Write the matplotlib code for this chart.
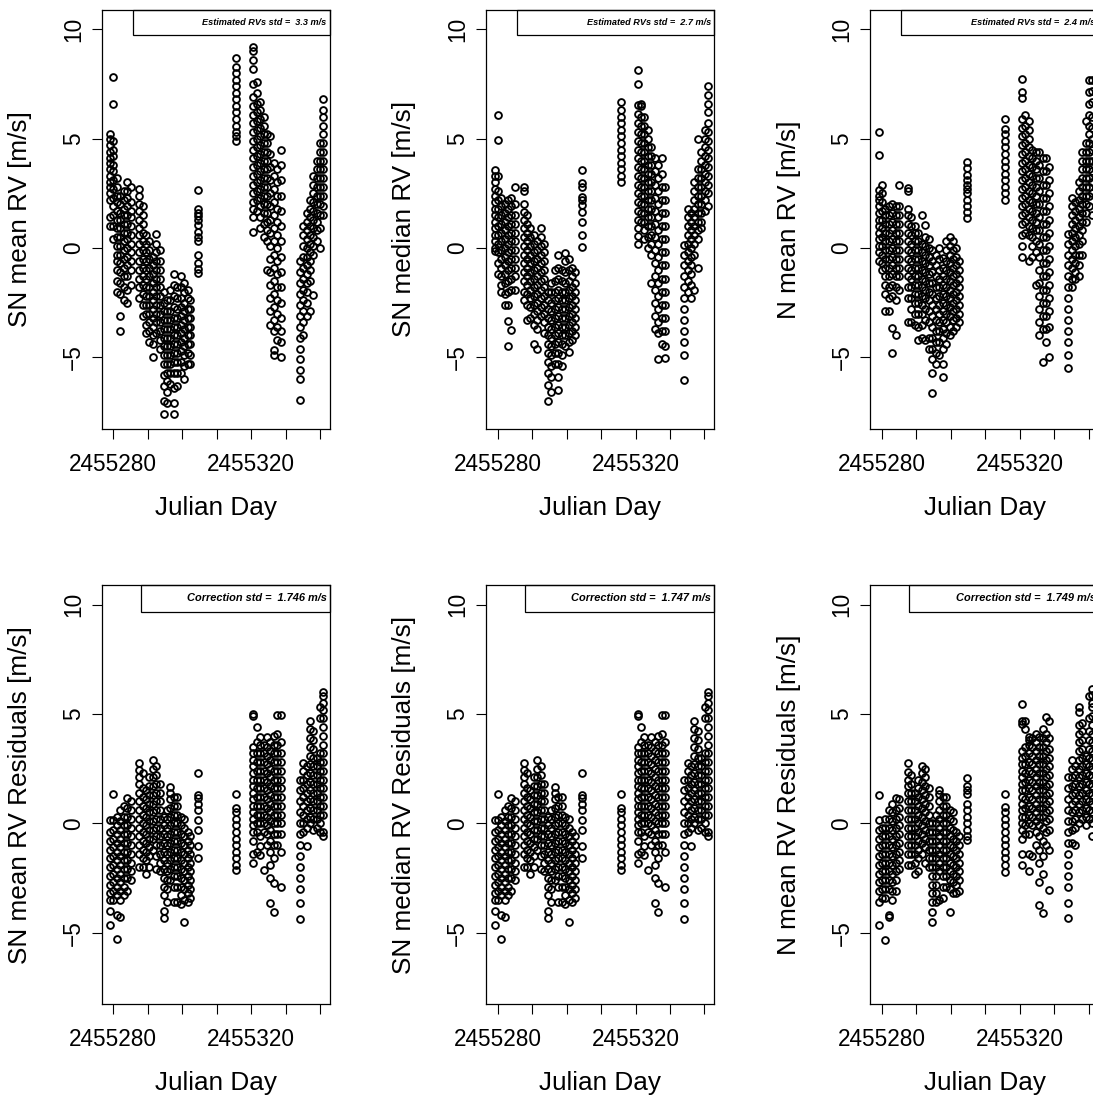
import numpy as np
import matplotlib.pyplot as plt
from matplotlib.patches import Rectangle

plt.rcParams['font.family'] = ['Liberation Sans', 'DejaVu Sans']

# observing nights (Julian Day)
nights = [2455279.1, 2455280.0, 2455281.0, 2455282.0, 2455283.0, 2455284.0, 2455285.0,
          2455287.5, 2455288.5, 2455289.5, 2455290.5, 2455291.5, 2455292.5, 2455293.5,
          2455294.6, 2455295.6, 2455296.6, 2455297.6, 2455298.6, 2455299.6, 2455300.6,
          2455301.6, 2455302.4, 2455304.6, 2455315.7,
          2455320.6, 2455321.6, 2455322.6, 2455323.6, 2455324.6, 2455325.6, 2455326.6,
          2455327.6, 2455328.6,
          2455334.1, 2455335.1, 2455336.1, 2455337.1, 2455338.1, 2455339.1, 2455340.1,
          2455340.9]

# RVs [m/s], one list per night
rv_sn_mean = [
    [5.2, 5.0, 4.7, 4.4, 4.1, 3.9, 3.6, 3.3, 3.0, 2.8, 2.5, 2.2, 1.4, 1.0],
    [7.8, 6.6, 4.9, 4.5, 4.2, 3.8, 3.5, 3.1, 2.7, 2.3, 1.9, 1.5, 1.0, 0.4],
    [3.2, 2.8, 2.4, 2.1, 1.7, 1.3, 0.9, 0.5, 0.1, -0.3, -0.6, -1.0, -1.5, -2.0],
    [2.4, 2.0, 1.6, 1.3, 0.9, 0.5, 0.1, -0.3, -0.7, -1.1, -1.6, -2.1, -3.1, -3.8],
    [2.6, 2.2, 1.8, 1.5, 1.1, 0.7, 0.3, -0.1, -0.5, -0.9, -1.3, -1.8, -2.4],
    [3.0, 2.6, 2.3, 1.9, 1.5, 1.1, 0.7, 0.4, 0.0, -0.4, -0.8, -1.3, -1.9, -2.5],
    [2.8, 2.1, 1.7, 1.4, 1.0, 0.6, 0.2, -0.2, -0.6, -1.0, -1.7],
    [2.7, 2.4, 2.0, 1.7, 1.3, 0.9, 0.6, 0.2, -0.2, -0.6, -1.0, -1.4, -1.8, -2.3],
    [1.9, 1.5, 1.1, 0.7, 0.3, -0.1, -0.5, -0.9, -1.3, -1.7, -2.1, -2.6, -3.1],
    [0.6, 0.2, -0.2, -0.6, -1.0, -1.4, -1.8, -2.2, -2.6, -3.0, -3.5, -3.9],
    [0.3, -0.1, -0.5, -0.9, -1.3, -1.8, -2.2, -2.6, -3.0, -3.4, -3.8, -4.3],
    [-0.4, -0.8, -1.2, -1.6, -2.0, -2.4, -2.8, -3.2, -3.6, -4.0, -4.4, -5.0],
    [0.65, 0.2, -0.2, -0.6, -1.0, -1.4, -1.8, -2.2, -2.6, -3.0, -3.4, -3.9],
    [-0.1, -0.6, -1.0, -1.4, -1.8, -2.2, -2.6, -3.0, -3.4, -3.8, -4.2, -4.6],
    [-2.0, -2.5, -2.9, -3.3, -3.7, -4.1, -4.5, -4.9, -5.3, -5.8, -6.3, -7.0, -7.6],
    [-2.4, -2.9, -3.3, -3.7, -4.1, -4.5, -4.9, -5.3, -5.7, -6.1, -6.6, -7.1],
    [-1.9, -2.4, -2.9, -3.3, -3.7, -4.1, -4.5, -4.9, -5.3, -5.7, -6.2],
    [-1.2, -1.7, -2.2, -2.7, -3.2, -3.6, -4.0, -4.4, -4.8, -5.2, -5.7, -6.4, -7.1, -7.6],
    [-1.8, -2.3, -2.8, -3.2, -3.6, -4.0, -4.4, -4.8, -5.2, -5.7, -6.3],
    [-1.3, -1.8, -2.3, -2.7, -3.1, -3.5, -3.9, -4.3, -4.7, -5.2, -5.7],
    [-1.6, -2.0, -2.5, -2.9, -3.3, -3.7, -4.1, -4.5, -4.9, -5.4, -6.0],
    [-1.9, -2.3, -2.8, -3.2, -3.6, -4.0, -4.4, -4.8, -5.3],
    [-2.4, -2.8, -3.2, -3.6, -4.0, -4.4, -4.9, -5.3],
    [2.65, 1.8, 1.6, 1.45, 1.3, 1.05, 0.75, 0.5, 0.3, -0.3, -0.7, -0.95, -1.15],
    [8.7, 8.3, 8.0, 7.7, 7.4, 7.1, 6.8, 6.5, 6.2, 5.9, 5.6, 5.3, 5.1, 4.9],
    [9.2, 9.0, 8.6, 8.2, 7.5, 6.9, 6.5, 6.1, 5.7, 5.3, 4.9, 4.5, 4.1, 3.7, 3.3, 2.9, 2.5, 2.1, 1.8, 1.4, 0.75],
    [7.6, 7.1, 6.6, 6.2, 5.8, 5.4, 5.0, 4.6, 4.2, 3.8, 3.4, 3.0, 2.6, 2.2, 1.7],
    [6.7, 6.3, 5.9, 5.5, 5.1, 4.7, 4.3, 3.9, 3.5, 3.1, 2.7, 2.3, 1.9, 1.4, 0.9],
    [6.0, 5.6, 5.2, 4.8, 4.4, 4.0, 3.6, 3.2, 2.8, 2.4, 2.0, 1.6, 1.1, 0.5],
    [5.2, 4.8, 4.4, 4.0, 3.6, 3.2, 2.8, 2.4, 2.0, 1.6, 1.2, 0.8, 0.3, -1.0],
    [5.1, 4.3, 3.7, 3.1, 2.5, 1.9, 1.3, 0.7, 0.1, -0.5, -1.1, -1.7, -2.3, -2.9, -3.5],
    [3.9, 3.3, 2.7, 2.1, 1.5, 0.9, 0.3, -0.3, -0.9, -1.5, -2.1, -2.7, -3.3, -3.8, -4.65, -4.9],
    [3.6, 3.0, 2.4, 1.8, 1.2, 0.6, 0.0, -0.6, -1.2, -1.8, -2.4, -3.0, -3.6, -4.2],
    [4.5, 3.8, 3.1, 2.4, 1.7, 1.0, 0.3, -0.4, -1.1, -1.8, -2.5, -3.2, -3.8, -4.3, -5.0],
    [-0.6, -1.1, -1.6, -2.1, -2.6, -3.1, -3.6, -4.1, -4.6, -5.1, -5.6, -6.0, -6.95],
    [1.0, 0.6, 0.1, -0.4, -0.9, -1.4, -1.9, -2.4, -2.9, -3.4, -4.0],
    [1.6, 1.2, 0.8, 0.4, 0.0, -0.4, -0.8, -1.2, -1.6, -2.0, -2.5, -3.1],
    [2.2, 1.8, 1.4, 1.0, 0.6, 0.2, -0.2, -0.6, -1.0, -1.5, -2.9],
    [3.3, 2.9, 2.5, 2.1, 1.7, 1.3, 0.9, 0.5, 0.1, -0.3, -2.15],
    [4.0, 3.6, 3.2, 2.8, 2.4, 2.0, 1.6, 1.2, 0.8, 0.3],
    [4.8, 4.4, 4.0, 3.6, 3.2, 2.8, 2.4, 2.0, 1.5, 0.9, 0.0],
    [6.8, 6.3, 6.0, 5.6, 5.2, 4.8, 4.4, 4.0, 3.6, 3.2, 2.8, 2.4, 1.9, 1.5],
]

rv_sn_median = [
    [3.55, 3.3, 3.0, 2.7, 2.4, 2.1, 1.8, 1.5, 1.2, 0.9, 0.6, 0.3, 0.0, -0.15],
    [6.1, 4.95, 3.3, 2.6, 2.2, 1.8, 1.4, 1.0, 0.6, 0.2, -0.2, -0.7, -1.2],
    [2.3, 1.9, 1.5, 1.1, 0.7, 0.3, -0.1, -0.5, -0.9, -1.3, -1.7, -2.0],
    [2.0, 1.6, 1.2, 0.8, 0.4, 0.0, -0.4, -0.8, -1.2, -1.6, -2.1, -2.6],
    [2.2, 1.8, 1.4, 1.0, 0.6, 0.2, -0.2, -0.6, -1.0, -1.5, -2.0, -2.6, -3.35, -4.5],
    [2.3, 1.9, 1.5, 1.1, 0.7, 0.3, -0.1, -0.5, -0.9, -1.4, -1.9, -3.75],
    [2.8, 2.0, 1.5, 1.1, 0.7, 0.3, -0.1, -0.5, -0.9, -1.3, -1.9],
    [2.8, 2.6, 2.0, 1.65, 1.3, 0.9, 0.5, 0.1, -0.3, -0.7, -1.1, -1.5, -2.0, -2.4],
    [1.5, 1.1, 0.7, 0.3, -0.1, -0.5, -0.9, -1.3, -1.7, -2.1, -2.6, -3.3],
    [0.9, 0.5, 0.1, -0.3, -0.7, -1.1, -1.5, -1.9, -2.3, -2.7, -3.2],
    [0.6, 0.2, -0.2, -0.6, -1.0, -1.4, -1.8, -2.2, -2.6, -3.0, -3.5, -4.4],
    [0.3, -0.1, -0.5, -0.9, -1.3, -1.7, -2.1, -2.5, -2.9, -3.3, -3.7, -4.6],
    [0.9, 0.5, 0.1, -0.3, -0.7, -1.1, -1.5, -1.9, -2.3, -2.7, -3.1],
    [0.2, -0.2, -0.6, -1.0, -1.4, -1.8, -2.2, -2.6, -3.0, -3.4, -3.9],
    [-2.0, -2.4, -2.8, -3.2, -3.6, -4.0, -4.4, -4.8, -5.2, -5.7, -6.25, -7.0],
    [-1.6, -2.0, -2.5, -2.9, -3.3, -3.7, -4.1, -4.5, -4.9, -5.4, -5.9, -6.6],
    [-1.0, -1.5, -2.0, -2.4, -2.8, -3.2, -3.6, -4.0, -4.4, -4.8, -5.3],
    [-0.3, -0.9, -1.4, -1.9, -2.3, -2.7, -3.1, -3.5, -3.9, -4.3, -4.8, -5.3, -5.9, -6.5],
    [-1.0, -1.5, -2.0, -2.4, -2.8, -3.2, -3.6, -4.0, -4.4, -4.9, -5.4],
    [-0.25, -0.6, -1.1, -1.6, -2.0, -2.4, -2.8, -3.2, -3.6, -4.0, -4.5],
    [-0.5, -1.0, -1.5, -1.9, -2.3, -2.7, -3.1, -3.5, -3.9, -4.3, -4.75],
    [-0.9, -1.3, -1.8, -2.2, -2.6, -3.0, -3.4, -3.8, -4.2],
    [-1.1, -1.6, -2.0, -2.4, -2.8, -3.2, -3.6, -4.0],
    [3.55, 2.95, 2.8, 2.35, 2.2, 1.95, 1.65, 1.2, 0.6, 0.05],
    [6.7, 6.3, 6.0, 5.7, 5.4, 5.1, 4.8, 4.5, 4.2, 3.9, 3.6, 3.3, 3.0],
    [8.15, 7.5, 6.55, 6.15, 5.7, 5.3, 4.9, 4.5, 4.1, 3.7, 3.3, 2.9, 2.5, 2.1, 1.7, 1.3, 0.9, 0.55, 0.2],
    [6.6, 6.5, 6.0, 5.6, 5.2, 4.8, 4.4, 4.0, 3.6, 3.2, 2.8, 2.4, 2.0, 1.6, 1.2],
    [6.0, 5.6, 5.2, 4.8, 4.4, 4.0, 3.6, 3.2, 2.8, 2.4, 2.0, 1.6, 1.2, 0.8, 0.4],
    [5.4, 5.0, 4.6, 4.2, 3.8, 3.4, 3.0, 2.6, 2.2, 1.8, 1.4, 1.0, 0.5, 0.0],
    [4.6, 4.2, 3.8, 3.4, 3.0, 2.6, 2.2, 1.8, 1.4, 1.0, 0.6, 0.2, -0.3, -1.6],
    [4.1, 3.5, 2.9, 2.3, 1.7, 1.1, 0.5, -0.1, -0.7, -1.3, -1.9, -2.5, -3.1, -3.7],
    [3.8, 3.2, 2.6, 2.0, 1.4, 0.8, 0.2, -0.4, -1.0, -1.6, -2.2, -2.8, -3.4, -3.9, -5.1],
    [4.1, 3.4, 2.8, 2.2, 1.6, 1.0, 0.4, -0.2, -0.8, -1.4, -2.0, -2.6, -3.2, -3.8, -4.4],
    [2.8, 2.2, 1.6, 1.0, 0.4, -0.2, -0.8, -1.4, -2.0, -2.6, -3.2, -3.8, -4.5, -5.05],
    [0.15, -0.3, -0.8, -1.3, -1.8, -2.3, -2.8, -3.3, -3.8, -4.3, -4.9, -6.05],
    [1.8, 1.4, 1.0, 0.6, 0.2, -0.2, -0.6, -1.0, -1.5, -2.0],
    [1.6, 1.2, 0.8, 0.4, 0.0, -0.4, -0.8, -1.2, -1.7, -2.3],
    [3.0, 2.6, 2.2, 1.8, 1.4, 1.0, 0.6, 0.2, -0.3, -1.9],
    [5.0, 3.6, 3.2, 2.8, 2.4, 2.0, 1.6, 1.2, 0.8, 0.4, -0.9],
    [4.4, 4.0, 3.6, 3.2, 2.8, 2.4, 2.0, 1.6, 1.2, 0.9],
    [5.4, 5.0, 4.6, 4.2, 3.8, 3.4, 3.0, 2.6, 2.2, 1.7],
    [7.4, 7.0, 6.6, 6.2, 5.7, 5.3, 4.9, 4.5, 4.1, 3.7, 3.3, 2.9, 2.5, 1.9],
]

rv_n_mean = [
    [5.3, 4.25, 2.65, 2.4, 2.2, 1.9, 1.6, 1.3, 1.0, 0.7, 0.4, 0.1, -0.2, -0.6],
    [2.9, 2.5, 2.1, 1.7, 1.3, 0.9, 0.5, 0.1, -0.3, -0.7, -1.0],
    [1.8, 1.5, 1.1, 0.7, 0.3, -0.1, -0.5, -0.9, -1.3, -1.7, -2.1, -2.9],
    [1.9, 1.5, 1.1, 0.7, 0.3, -0.1, -0.5, -0.9, -1.3, -1.8, -2.3, -2.9],
    [2.0, 1.6, 1.2, 0.8, 0.4, 0.0, -0.4, -0.8, -1.2, -1.7, -2.2, -3.65, -4.8],
    [1.9, 1.5, 1.1, 0.7, 0.3, -0.1, -0.5, -0.9, -1.3, -1.8, -2.4, -4.0],
    [2.9, 1.9, 1.5, 1.1, 0.7, 0.3, -0.1, -0.5, -0.9, -1.3, -1.9],
    [2.75, 2.6, 1.8, 1.5, 1.1, 0.7, 0.3, -0.1, -0.5, -0.9, -1.3, -1.8, -2.3, -3.4],
    [1.4, 1.0, 0.6, 0.2, -0.2, -0.6, -1.0, -1.4, -1.8, -2.3, -2.8, -3.4],
    [1.0, 0.7, 0.3, -0.1, -0.5, -0.9, -1.3, -1.7, -2.1, -2.5, -3.0, -3.5],
    [0.7, 0.3, -0.1, -0.5, -0.9, -1.3, -1.7, -2.1, -2.5, -3.0, -3.6, -4.2],
    [1.5, 0.2, -0.2, -0.6, -1.0, -1.4, -1.8, -2.2, -2.6, -3.0, -3.5, -4.1],
    [1.05, 0.5, 0.1, -0.3, -0.7, -1.1, -1.5, -1.9, -2.3, -2.8, -3.3, -4.2],
    [0.4, 0.0, -0.4, -0.8, -1.2, -1.6, -2.0, -2.4, -2.9, -3.4, -4.1, -4.6],
    [-0.1, -0.6, -1.1, -1.6, -2.1, -2.6, -3.1, -3.6, -4.1, -4.6, -5.1, -5.7, -6.65],
    [-0.3, -0.8, -1.3, -1.8, -2.3, -2.8, -3.3, -3.8, -4.3, -4.8, -5.3],
    [0.0, -0.5, -1.0, -1.4, -1.8, -2.2, -2.6, -3.0, -3.4, -3.8, -4.3, -4.9],
    [-0.45, -0.9, -1.3, -1.7, -2.1, -2.5, -2.9, -3.3, -3.7, -4.1, -4.6, -5.3, -5.9],
    [0.3, -0.1, -0.6, -1.0, -1.4, -1.8, -2.2, -2.6, -3.0, -3.4, -3.9, -4.4],
    [0.5, 0.1, -0.3, -0.7, -1.1, -1.5, -1.9, -2.3, -2.7, -3.1, -3.6, -4.0],
    [0.3, -0.1, -0.5, -0.9, -1.3, -1.7, -2.1, -2.5, -2.9, -3.3, -3.8],
    [0.0, -0.4, -0.8, -1.2, -1.6, -2.0, -2.4, -2.8, -3.2, -3.6],
    [-0.6, -1.0, -1.4, -1.8, -2.2, -2.6, -3.0, -3.4],
    [3.95, 3.65, 3.35, 3.1, 2.9, 2.7, 2.5, 2.2, 1.9, 1.65, 1.35],
    [5.9, 5.45, 5.2, 4.9, 4.6, 4.3, 4.0, 3.7, 3.4, 3.1, 2.8, 2.5, 2.2],
    [7.75, 7.15, 6.85, 5.9, 5.5, 5.1, 4.7, 4.3, 3.9, 3.5, 3.1, 2.7, 2.3, 1.9, 1.5, 1.1, 0.6, 0.1, -0.4],
    [6.1, 5.6, 5.2, 4.8, 4.4, 4.0, 3.6, 3.2, 2.8, 2.4, 2.0, 1.6, 1.2, 0.7],
    [5.8, 5.4, 5.0, 4.6, 4.2, 3.8, 3.4, 3.0, 2.6, 2.2, 1.8, 1.4, 1.0, 0.6, -0.6],
    [4.5, 4.1, 3.7, 3.3, 2.9, 2.5, 2.1, 1.7, 1.3, 0.9, 0.5, 0.1, -0.4],
    [4.4, 4.0, 3.6, 3.2, 2.8, 2.4, 2.0, 1.6, 1.2, 0.8, 0.3, -0.2, -1.7],
    [4.4, 3.8, 3.2, 2.6, 2.0, 1.4, 0.8, 0.2, -0.4, -1.0, -1.6, -2.2, -2.8, -3.4, -4.0],
    [4.1, 3.5, 2.9, 2.3, 1.7, 1.1, 0.5, -0.1, -0.7, -1.3, -1.9, -2.5, -3.1, -3.7, -5.2],
    [4.1, 3.5, 2.9, 2.3, 1.7, 1.1, 0.5, -0.1, -0.7, -1.3, -1.9, -2.5, -3.1, -3.7, -4.3],
    [3.7, 3.1, 2.5, 1.9, 1.3, 0.7, 0.1, -0.5, -1.1, -1.7, -2.3, -2.9, -3.6, -5.0],
    [0.65, 0.2, -0.3, -0.8, -1.3, -1.8, -2.3, -2.8, -3.3, -3.8, -4.3, -4.9, -5.5],
    [2.3, 1.9, 1.5, 1.1, 0.7, 0.3, -0.1, -0.5, -0.9, -1.4, -1.8],
    [2.1, 1.7, 1.3, 0.9, 0.5, 0.1, -0.3, -0.7, -1.1, -1.4],
    [3.0, 2.6, 2.2, 1.8, 1.4, 1.0, 0.6, 0.2, -0.3, -0.8, -1.3],
    [4.4, 4.0, 3.6, 3.2, 2.8, 2.4, 2.0, 1.6, 1.2, 0.8, 0.3, -0.3],
    [5.8, 4.8, 4.4, 4.0, 3.6, 3.2, 2.8, 2.4, 2.0, 1.6, 1.2],
    [7.7, 7.15, 6.6, 6.1, 5.6, 5.2, 4.8, 4.4, 4.0, 3.6, 3.2, 2.8, 2.4, 1.9],
    [7.7, 7.2, 6.7, 6.0, 5.5, 5.0, 4.5, 4.0, 3.5, 3.0, 2.5, 1.5],
]

# residuals after correction [m/s]
res_sn_mean = [
    [0.15, -0.4, -0.8, -1.2, -1.6, -2.0, -2.4, -2.8, -3.2, -3.5, -4.0, -4.65],
    [1.35, 0.15, -0.3, -0.7, -1.1, -1.5, -1.9, -2.3, -2.7, -3.1, -3.5],
    [0.3, -0.1, -0.5, -0.9, -1.3, -1.7, -2.1, -2.5, -2.9, -3.3, -4.2, -5.3],
    [0.6, 0.1, -0.3, -0.7, -1.1, -1.5, -1.9, -2.3, -2.7, -3.1, -3.5, -4.3],
    [0.8, 0.3, -0.1, -0.5, -0.9, -1.3, -1.7, -2.1, -2.5, -2.9, -3.3],
    [1.15, 0.7, 0.3, -0.1, -0.5, -0.9, -1.3, -1.7, -2.1, -2.5, -3.1],
    [1.0, 0.6, 0.2, -0.2, -0.6, -1.0, -1.4, -1.8, -2.2, -2.6],
    [2.75, 2.45, 2.1, 1.8, 1.4, 1.0, 0.6, 0.2, -0.2, -0.6, -1.0, -1.4, -2.0],
    [2.3, 1.6, 1.2, 0.8, 0.4, 0.0, -0.4, -0.8, -1.2, -1.6, -2.0],
    [1.5, 1.1, 0.7, 0.3, -0.1, -0.5, -0.9, -1.3, -1.7, -2.3],
    [2.1, 1.7, 1.3, 0.9, 0.5, 0.1, -0.3, -0.7, -1.1, -1.5, -2.0],
    [2.9, 2.5, 2.1, 1.7, 1.3, 0.9, 0.5, 0.1, -0.3, -0.7, -1.2],
    [2.6, 2.2, 1.8, 1.4, 1.0, 0.6, 0.2, -0.2, -0.6, -1.0, -1.5, -2.1],
    [1.8, 1.4, 1.0, 0.6, 0.2, -0.2, -0.6, -1.0, -1.4, -1.8, -2.2],
    [0.3, -0.1, -0.5, -0.9, -1.3, -1.7, -2.1, -2.5, -2.9, -3.3, -4.0, -4.35],
    [0.6, 0.2, -0.2, -0.6, -1.0, -1.4, -1.8, -2.2, -2.6, -3.0, -3.6],
    [1.65, 1.4, 1.1, 0.7, 0.3, -0.1, -0.5, -0.9, -1.3, -1.7, -2.1, -2.6],
    [1.2, 0.8, 0.4, 0.0, -0.4, -0.8, -1.2, -1.6, -2.0, -2.4, -2.9, -3.6],
    [1.2, 0.8, 0.4, 0.0, -0.4, -0.8, -1.2, -1.6, -2.0, -2.4, -2.9, -3.6],
    [0.3, -0.1, -0.5, -0.9, -1.3, -1.7, -2.1, -2.5, -2.9, -3.3, -3.7],
    [0.2, -0.2, -0.6, -1.0, -1.4, -1.8, -2.2, -2.6, -3.0, -3.5, -4.5],
    [-0.4, -0.8, -1.2, -1.6, -2.0, -2.4, -2.8, -3.2, -3.6],
    [-0.6, -1.0, -1.4, -1.8, -2.2, -2.6, -3.0, -3.4],
    [2.3, 1.3, 1.15, 0.9, 0.6, 0.15, -0.3, -1.05, -1.6],
    [1.35, 0.7, 0.5, 0.2, -0.1, -0.4, -0.7, -1.0, -1.3, -1.6, -1.9, -2.15],
    [5.0, 4.9, 3.5, 3.2, 2.9, 2.6, 2.3, 2.0, 1.7, 1.4, 1.1, 0.8, 0.5, 0.2, -0.1, -0.4, -0.8, -1.4, -1.8],
    [4.4, 3.7, 3.2, 2.8, 2.4, 2.0, 1.6, 1.2, 0.8, 0.4, 0.0, -0.4, -1.3],
    [3.95, 3.6, 3.2, 2.8, 2.4, 2.0, 1.6, 1.2, 0.8, 0.4, 0.0, -0.6, -1.05, -1.45],
    [3.6, 3.2, 2.8, 2.4, 2.0, 1.6, 1.2, 0.8, 0.4, 0.0, -0.4, -2.15],
    [3.95, 3.5, 3.1, 2.7, 2.3, 1.9, 1.5, 1.1, 0.7, 0.3, -0.1, -0.5, -1.0],
    [3.7, 3.3, 2.9, 2.5, 2.1, 1.7, 1.3, 0.9, 0.5, 0.1, -0.3, -0.8, -1.3, -1.9, -2.5, -3.65],
    [4.0, 3.6, 3.2, 2.8, 2.4, 2.0, 1.6, 1.2, 0.8, 0.4, 0.0, -0.5, -1.0, -1.6, -2.75, -4.05],
    [4.95, 4.1, 3.6, 3.2, 2.8, 2.4, 2.0, 1.6, 1.2, 0.8, 0.4, 0.0, -0.5, -1.0],
    [4.95, 3.7, 3.2, 2.8, 2.4, 2.0, 1.6, 1.2, 0.8, 0.4, 0.0, -0.5, -1.3, -2.9],
    [2.0, 1.5, 1.0, 0.5, 0.0, -0.5, -1.0, -1.5, -2.0, -2.5, -3.0, -3.65, -4.4],
    [2.75, 2.4, 2.0, 1.6, 1.2, 0.8, 0.4, 0.0, -0.4],
    [2.6, 2.2, 1.8, 1.4, 1.0, 0.6, 0.2, -0.2, -1.05],
    [4.7, 4.3, 3.9, 3.5, 3.1, 2.7, 2.3, 1.9, 1.5, 1.1, 0.7, 0.3, 0.0],
    [4.2, 3.8, 3.4, 3.0, 2.6, 2.2, 1.8, 1.4, 1.0, 0.6, 0.2, -0.3],
    [3.0, 2.6, 2.2, 1.8, 1.4, 1.0, 0.6, 0.2, -0.2],
    [5.3, 4.8, 3.2, 2.8, 2.4, 2.0, 1.6, 1.2, 0.8, 0.4, 0.0, -0.4],
    [6.0, 5.8, 5.5, 5.2, 4.8, 4.4, 4.0, 3.6, 3.2, 2.8, 2.4, 2.0, 1.6, 1.2, 0.8, 0.4, -0.4, -0.6],
]

# median-based residuals are indistinguishable from the mean-based ones at this scale
res_sn_median = res_sn_mean

res_n_mean = [
    [1.3, 0.15, -0.3, -0.7, -1.1, -1.5, -1.9, -2.3, -2.7, -3.1, -3.6, -4.65],
    [-0.2, -0.6, -1.0, -1.4, -1.8, -2.2, -2.6, -3.0, -3.4],
    [0.2, -0.2, -0.6, -1.0, -1.4, -1.8, -2.2, -2.6, -3.0, -3.4, -5.35],
    [0.6, 0.2, -0.2, -0.6, -1.0, -1.4, -1.8, -2.2, -2.6, -3.0, -4.2, -4.3],
    [0.9, 0.5, 0.1, -0.3, -0.7, -1.1, -1.5, -1.9, -2.3, -2.7, -3.1, -3.5],
    [1.15, 0.6, 0.2, -0.2, -0.6, -1.0, -1.4, -1.8, -2.2, -2.6, -3.1],
    [1.1, 0.7, 0.3, -0.1, -0.5, -0.9, -1.3, -1.7, -2.1],
    [2.75, 2.35, 2.0, 1.7, 1.4, 1.0, 0.6, 0.2, -0.2, -0.6, -1.0, -1.4, -1.9],
    [2.2, 1.8, 1.4, 1.0, 0.6, 0.2, -0.2, -0.6, -1.0, -1.4, -1.9],
    [1.4, 1.0, 0.6, 0.2, -0.2, -0.6, -1.0, -1.4, -1.8, -2.3],
    [2.0, 1.6, 1.2, 0.8, 0.4, 0.0, -0.4, -0.8, -1.2, -1.6, -2.2],
    [2.6, 2.3, 1.9, 1.5, 1.1, 0.7, 0.3, -0.1, -0.5, -0.9, -1.4],
    [2.5, 2.1, 1.7, 1.3, 0.9, 0.5, 0.1, -0.3, -0.7, -1.1, -1.8],
    [1.6, 1.2, 0.8, 0.4, 0.0, -0.4, -0.8, -1.2, -1.6, -2.0],
    [0.0, -0.4, -0.8, -1.2, -1.6, -2.0, -2.4, -2.8, -3.2, -3.6, -4.05, -4.5],
    [0.4, 0.0, -0.4, -0.8, -1.2, -1.6, -2.0, -2.4, -2.8, -3.2, -3.6],
    [1.5, 1.35, 1.0, 0.6, 0.2, -0.2, -0.6, -1.0, -1.4, -1.8, -2.2, -3.5],
    [1.2, 0.8, 0.4, 0.0, -0.4, -0.8, -1.2, -1.6, -2.0, -2.4, -2.9, -3.4],
    [1.2, 0.8, 0.4, 0.0, -0.4, -0.8, -1.2, -1.6, -2.0, -2.4, -2.9],
    [0.6, 0.2, -0.2, -0.6, -1.0, -1.4, -1.8, -2.2, -2.6, -3.0, -4.05],
    [0.5, 0.1, -0.3, -0.7, -1.1, -1.5, -1.9, -2.3, -2.7, -3.2],
    [-0.4, -0.8, -1.2, -1.6, -2.0, -2.4, -2.8, -3.2],
    [-0.6, -1.0, -1.4, -1.8, -2.2, -2.6, -3.1],
    [2.05, 1.7, 1.5, 1.35, 0.9, 0.6, 0.3, 0.0, -0.3, -0.6, -0.75],
    [1.35, 0.75, 0.5, 0.2, -0.1, -0.4, -0.7, -1.0, -1.3, -1.6, -1.9, -2.25],
    [5.45, 4.7, 4.55, 3.3, 3.0, 2.7, 2.4, 2.1, 1.8, 1.5, 1.2, 0.9, 0.6, 0.3, 0.0, -0.3, -0.7, -1.4, -1.9],
    [4.7, 4.3, 3.5, 3.1, 2.7, 2.3, 1.9, 1.5, 1.1, 0.7, 0.3, -0.1, -0.5],
    [3.95, 3.8, 3.6, 3.2, 2.8, 2.4, 2.0, 1.6, 1.2, 0.8, 0.4, 0.0, -0.5, -1.4, -2.2],
    [3.9, 3.5, 3.1, 2.7, 2.3, 1.9, 1.5, 1.1, 0.7, 0.3, -0.1, -1.5],
    [4.1, 3.7, 3.3, 2.9, 2.5, 2.1, 1.7, 1.3, 0.9, 0.5, 0.1, -0.4, -1.0],
    [3.95, 3.5, 3.1, 2.7, 2.3, 1.9, 1.5, 1.1, 0.7, 0.3, -0.1, -0.6, -1.2, -1.8, -2.7, -3.75],
    [4.3, 3.9, 3.5, 3.1, 2.7, 2.3, 1.9, 1.5, 1.1, 0.7, 0.3, -0.2, -0.8, -1.5, -2.3, -4.1],
    [4.85, 4.1, 3.7, 3.3, 2.9, 2.5, 2.1, 1.7, 1.3, 0.9, 0.5, 0.1, -0.4, -1.0],
    [4.7, 3.9, 3.4, 3.0, 2.6, 2.2, 1.8, 1.4, 1.0, 0.6, 0.2, -0.3, -1.2, -3.05],
    [2.1, 1.6, 1.1, 0.6, 0.1, -0.4, -0.9, -1.4, -1.9, -2.4, -2.9, -3.65, -4.35],
    [2.9, 2.5, 2.1, 1.7, 1.3, 0.9, 0.5, 0.1, -0.3, -0.9],
    [2.6, 2.2, 1.8, 1.4, 1.0, 0.6, 0.2, -0.2, -1.0],
    [5.3, 5.1, 4.5, 4.1, 3.7, 3.3, 2.9, 2.5, 2.1, 1.7, 1.3, 0.9, 0.5, 0.0],
    [4.6, 4.2, 3.8, 3.4, 3.0, 2.6, 2.2, 1.8, 1.4, 1.0, 0.6, 0.2],
    [3.1, 2.7, 2.3, 1.9, 1.5, 1.1, 0.7, 0.3, -0.1],
    [5.8, 4.8, 4.2, 3.8, 3.4, 3.0, 2.6, 2.2, 1.8, 1.4, 1.0, 0.6, 0.2],
    [6.15, 5.85, 5.5, 5.3, 4.9, 4.5, 4.1, 3.7, 3.3, 2.9, 2.5, 2.1, 1.7, 1.3, 0.9, 0.5, 0.0, -0.6],
]

panels = [
    (rv_sn_mean, "SN mean RV [m/s]", "Estimated RVs std =  3.3 m/s"),
    (rv_sn_median, "SN median RV [m/s]", "Estimated RVs std =  2.7 m/s"),
    (rv_n_mean, "N mean RV [m/s]", "Estimated RVs std =  2.4 m/s"),
    (res_sn_mean, "SN mean RV Residuals [m/s]", "Correction std =  1.746 m/s"),
    (res_sn_median, "SN median RV Residuals [m/s]", "Correction std =  1.747 m/s"),
    (res_n_mean, "N mean RV Residuals [m/s]", "Correction std =  1.749 m/s"),
]

xticks = [2455280, 2455290, 2455300, 2455310, 2455320, 2455330, 2455340]
xticklabels = ["2455280", "", "", "", "2455320", "", ""]
yticks = [-5, 0, 5, 10]
yticklabels = ["\u22125", "0", "5", "10"]

W, H = 1093, 1096
fig = plt.figure(figsize=(W / 100, H / 100), dpi=100)

col_left = [101.7, 486.1, 870.4]
row_top = [9.7, 585.0]
pw, ph = 228.3, 419.3

for k, (vals, ylab, note) in enumerate(panels):
    r, c = divmod(k, 3)
    left, top = col_left[c], row_top[r]
    ax = fig.add_axes([left / W, 1 - (top + ph) / H, pw / W, ph / H])

    x = [d for d, v in zip(nights, vals) for _ in v]
    y = [yy for v in vals for yy in v]
    ax.plot(x, y, "o", mfc="none", mec="black", ms=4.9, mew=1.35, ls="none")

    ax.set_xlim(2455276.63, 2455342.9)
    ax.set_ylim(-8.28, 10.9)
    ax.set_xticks(xticks)
    ax.set_xticklabels(xticklabels)
    ax.set_yticks(yticks)
    ax.set_yticklabels(yticklabels, rotation=90, va="center")
    ax.tick_params(direction="out", length=7.2, width=0.8, labelsize=16.3)
    ax.tick_params(axis="x", pad=10)
    ax.tick_params(axis="y", pad=5)
    for s in ax.spines.values():
        s.set_linewidth(0.9)

    ax.text(0.5, -0.205, "Julian Day", transform=ax.transAxes, ha="center",
            va="baseline", fontsize=18.8)
    # y label: baseline about 75 px left of the plot box
    ax.text(-74.7 / pw, 0.5, ylab, transform=ax.transAxes, rotation=90,
            rotation_mode="anchor", ha="center", va="baseline", fontsize=18.8)

    # legend-like note box in the top right corner
    if r == 0:
        bx, by, fs = 0.1358, 0.9397, 6.6
    else:
        bx, by, fs = 0.1708, 0.9363, 7.9
    ax.add_patch(Rectangle((bx, by), 1 - bx, 1 - by, transform=ax.transAxes,
                           fill=False, lw=0.9, ec="black", clip_on=False))
    ax.text(0.9856, (by + 1) / 2, note, transform=ax.transAxes, ha="right",
            va="center", fontsize=fs, fontweight="bold", fontstyle="italic")

fig.savefig("out.png", dpi=100)
